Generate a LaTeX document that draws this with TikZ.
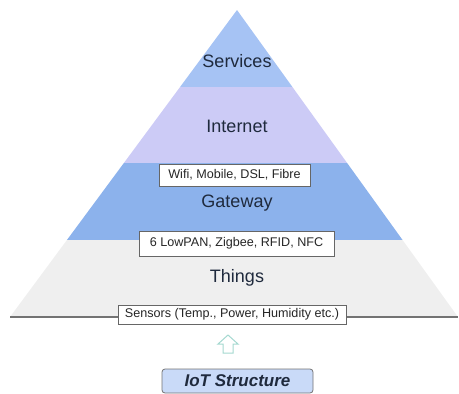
\documentclass[tikz,border=0pt]{standalone}
\usepackage{fontspec}
\setmainfont{Liberation Sans}
\definecolor{svc}{HTML}{A6C3F4}
\definecolor{inet}{HTML}{CCCBF6}
\definecolor{gw}{HTML}{8CB2EC}
\definecolor{thg}{HTML}{EFEFEF}
\definecolor{txt}{HTML}{1F2A3D}
\definecolor{iotfill}{HTML}{C9DAF8}
\definecolor{arr}{HTML}{A4D8D0}
\begin{document}
\begin{tikzpicture}[x=1pt,y=-1pt,
  layer/.style={font=\fontsize{18}{20}\selectfont, text=txt, inner sep=0pt},
  tagbox/.style={draw=black!60, fill=white, line width=0.8pt, font=\fontsize{12.6}{14}\selectfont, text=black!85, inner sep=0pt, minimum height=#1},
  tagbox/.default=20pt]
\useasboundingbox (0,0) rectangle (459,394);
% pyramid
\coordinate (apex) at (237,10);
\coordinate (bl) at (10,317);
\coordinate (br) at (458,317);
\begin{scope}
  \clip (apex) -- (br) -- (bl) -- cycle;
  \fill[svc] (0,0) rectangle (459,87);
  \fill[inet] (0,87) rectangle (459,163);
  \fill[gw] (0,163) rectangle (459,240);
  \fill[thg] (0,240) rectangle (459,317);
\end{scope}
\draw[black!55, line width=1.2pt] (bl) -- (br);
% layer labels
\node[layer] (services) at (237,61) {Services};
\node[layer] (internet) at (237,126) {Internet};
\node[layer] (gateway) at (237,203) {Gateway};
\node[layer] (things) at (237,278) {Things};
% tag boxes
\node[tagbox=22pt, minimum width=151pt] (wifi) at (234.5,175) {Wifi, Mobile, DSL, Fibre};
\node[tagbox=25pt, minimum width=195pt] (lowpan) at (236.5,243.5) {6 LowPAN, Zigbee, RFID, NFC};
\node[tagbox=19pt, minimum width=228pt] (sensors) at (232,314.5) {Sensors (Temp., Power, Humidity etc.)};
% IoT structure
\node[draw=black!55, fill=iotfill, rounded corners=3pt, line width=0.8pt, minimum width=151pt, minimum height=24pt, inner sep=0pt, text=txt, font=\fontsize{17}{19}\selectfont\bfseries\itshape] (iot) at (237.5,381) {IoT Structure};
% hollow up arrow
\draw[arr, line width=1pt, line join=miter] (228,335) -- (238,344) -- (233,344) -- (233,353) -- (223,353) -- (223,344) -- (218,344) -- cycle;
\end{tikzpicture}
\end{document}
